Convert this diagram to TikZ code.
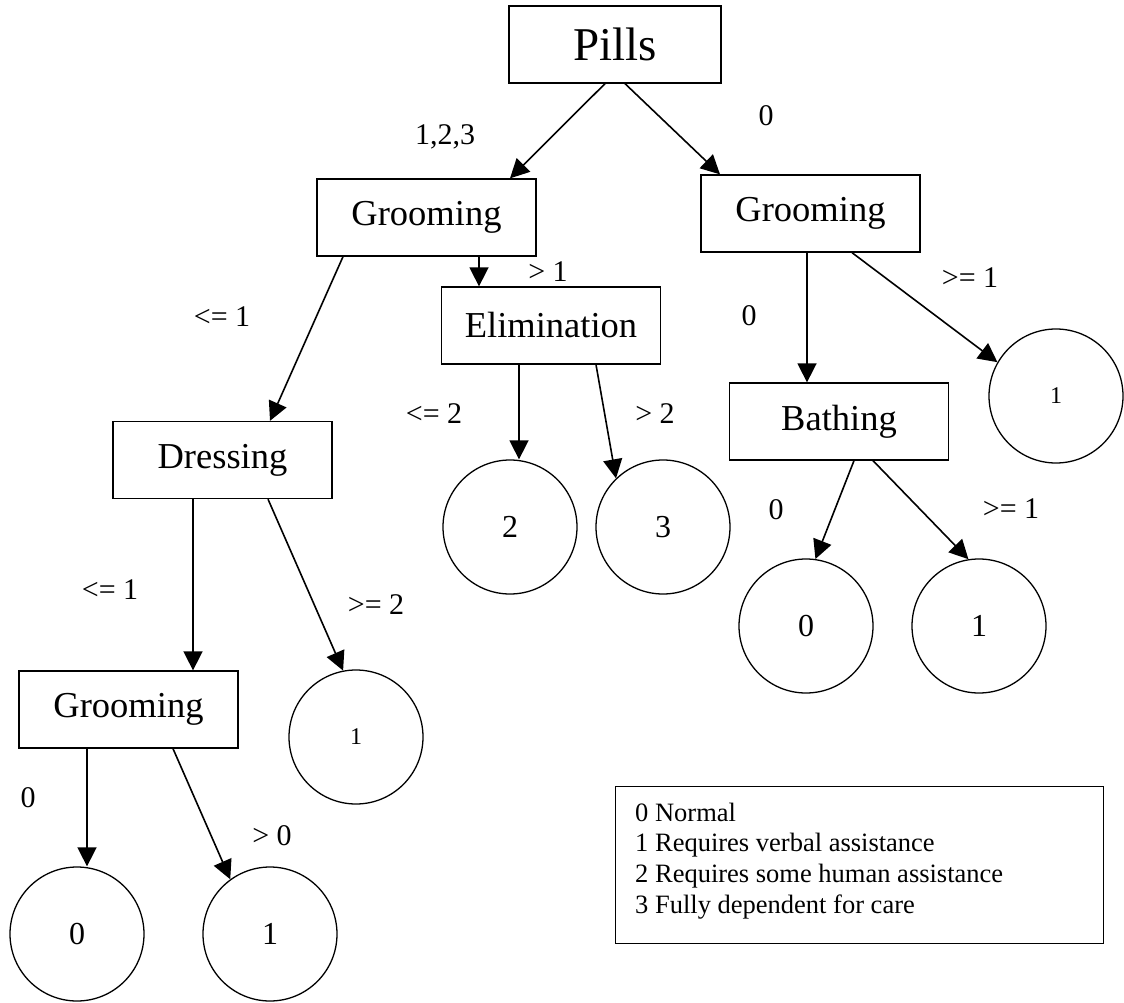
\documentclass[tikz,border=0pt]{standalone}
\usepackage{fontspec}
\setmainfont{Liberation Serif}
\usetikzlibrary{arrows.meta}

\begin{document}
\begin{tikzpicture}[x = 1pt, y = -1pt,
    attrbox/.style = {draw, line width = 1.3pt, rectangle,
                      minimum width = 219pt, minimum height = 77pt,
                      inner sep = 0pt, font = \fontsize{36.5}{40}\selectfont},
    leafnode/.style = {draw, line width = 1.3pt, circle,
                       minimum size = 134pt, inner sep = 0pt,
                       font = \fontsize{32}{36}\selectfont},
    smallleaf/.style = {leafnode, font = \fontsize{24}{28}\selectfont},
    cutlabel/.style = {anchor = base, inner sep = 0pt,
                       font = \fontsize{30}{34}\selectfont},
    keytext/.style = {anchor = base west, inner sep = 0pt,
                      font = \fontsize{26.5}{30}\selectfont},
    branch/.style = {-{Triangle[length = 19pt, width = 19pt]},
                     line width = 1.6pt}]
\useasboundingbox (0, 0) rectangle (1124, 1003);

% attribute boxes
\node[attrbox, minimum width = 212pt,
      font = \fontsize{47}{52}\selectfont] (P) at (615, 44.5) {Pills};
\node[attrbox] (G1) at (426.5, 217.5) {Grooming};
\node[attrbox] (G2) at (810.5, 213.5) {Grooming};
\node[attrbox] (E) at (551, 325.5) {Elimination};
\node[attrbox] (D) at (222.5, 460) {Dressing};
\node[attrbox] (B) at (839, 421.5) {Bathing};
\node[attrbox] (G3) at (128.5, 709.5) {Grooming};

% leaves
\node[smallleaf] (R1) at (1056, 396) {1};
\node[leafnode] (E2) at (510, 527) {2};
\node[leafnode] (E3) at (663, 527) {3};
\node[leafnode] (B0) at (806, 626) {0};
\node[leafnode] (B1) at (979, 626) {1};
\node[smallleaf] (D1) at (356, 737) {1};
\node[leafnode] (L0) at (77, 934) {0};
\node[leafnode] (L1) at (270, 934) {1};

% branches
\draw[branch] ([xshift = -10pt] P.south) -- ([xshift = 83.5pt] G1.north);
\draw[branch] ([xshift = 10pt] P.south) -- ([xshift = -90.5pt] G2.north);
\draw[branch] ([xshift = -83.5pt] G1.south) -- ([xshift = 47.5pt] D.north);
\draw[branch] ([xshift = 52.5pt] G1.south) -- ([xshift = 52.5pt] G1.south |- E.north);
\draw[branch] ([xshift = -32pt] E.south) -- ([xshift = -32pt] E.south |- E2.north);
\draw[branch] ([xshift = 45pt] E.south) -- (E3.134);
\draw[branch] ([xshift = -3.5pt] G2.south) -- ([xshift = -3.5pt] G2.south |- B.north);
\draw[branch] ([xshift = 41.5pt] G2.south) -- (R1.150);
\draw[branch] ([xshift = 15pt] B.south) -- (B0.82);
\draw[branch] ([xshift = 34pt] B.south) -- (B1.99);
\draw[branch] ([xshift = -29.5pt] D.south) -- ([xshift = -29.5pt] D.south |- G3.north);
\draw[branch] ([xshift = 45.5pt] D.south) -- (D1.101);
\draw[branch] ([xshift = -41.5pt] G3.south) -- ([xshift = -41.5pt] G3.south |- L0.north);
\draw[branch] ([xshift = 44.5pt] G3.south) -- (L1.126);

% branch labels
\node[cutlabel] (c1) at (445, 145) {1,2,3};
\node[cutlabel] (c2) at (766, 126) {0};
\node[cutlabel] (c3) at (548, 281) {> 1};
\node[cutlabel] (c4) at (222, 326) {<= 1};
\node[cutlabel] (c5) at (749, 325) {0};
\node[cutlabel] (c6) at (970, 287) {>= 1};
\node[cutlabel] (c7) at (434, 423) {<= 2};
\node[cutlabel] (c8) at (655, 423) {> 2};
\node[cutlabel] (c9) at (776, 519) {0};
\node[cutlabel] (c10) at (1011, 518) {>= 1};
\node[cutlabel] (c11) at (110, 599) {<= 1};
\node[cutlabel] (c12) at (376, 614) {>= 2};
\node[cutlabel] (c13) at (28, 807) {0};
\node[cutlabel] (c14) at (272, 845) {> 0};

% key
\node[draw, line width = 1.3pt, anchor = north west, inner sep = 0pt,
      minimum width = 488pt, minimum height = 157pt] (K) at (615, 786) {};
\foreach \t [count = \i] in {0 Normal, 1 Requires verbal assistance,
    2 Requires some human assistance, 3 Fully dependent for care}
  \node[keytext] (K\i) at (635, 790.3 + 30.7*\i) {\t};
\end{tikzpicture}
\end{document}
